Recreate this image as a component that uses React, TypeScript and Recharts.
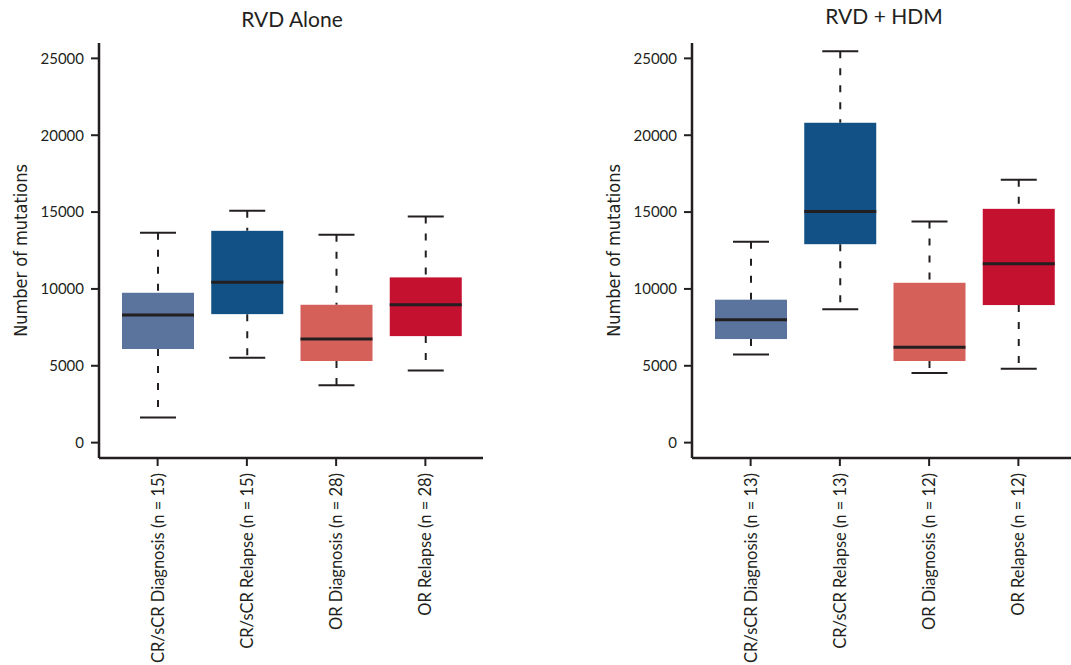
import React from "react";
import { ComposedChart, Bar, XAxis, YAxis, Label } from "recharts";

const aloneCategories = [
    "CR/sCR Diagnosis (n = 15)",
    "CR/sCR Relapse (n = 15)",
    "OR Diagnosis (n = 28)",
    "OR Relapse (n = 28)",
];
const hdmCategories = [
    "CR/sCR Diagnosis (n = 13)",
    "CR/sCR Relapse (n = 13)",
    "OR Diagnosis (n = 12)",
    "OR Relapse (n = 12)",
];

const aloneMin = [1630, 5530, 3730, 4700];
const aloneQ1 = [6090, 8360, 5310, 6930];
const aloneMedian = [8300, 10440, 6740, 8970];
const aloneQ3 = [9750, 13780, 8970, 10750];
const aloneMax = [13650, 15080, 13520, 14710];

const hdmMin = [5740, 8670, 4530, 4810];
const hdmQ1 = [6740, 12910, 5310, 8950];
const hdmMedian = [8000, 15040, 6200, 11640];
const hdmQ3 = [9300, 20810, 10400, 15210];
const hdmMax = [13070, 25460, 14390, 17100];

const boxColors = ["#5b749d", "#115186", "#d5605a", "#c3112f"];
const yTicks = [0, 5000, 10000, 15000, 20000, 25000];

const ink = "#231f20";
const font = "Lato, 'Open Sans', sans-serif";

function BoxShape(props: any) {
    const { x, y, width, height, payload } = props;
    const { min, q1, median, q3, max, color } = payload;
    const top = Math.min(y, y + height);
    const k = Math.abs(height) / (max - min);
    const py = (v: number) => top + (max - v) * k;
    const cx = x + width / 2;
    const cap = width / 4;
    return (
        <g>
            <line x1={cx} x2={cx} y1={py(max)} y2={py(q3)} stroke={ink} strokeWidth={2} strokeDasharray="7 10" />
            <line x1={cx} x2={cx} y1={py(q1)} y2={py(min)} stroke={ink} strokeWidth={2} strokeDasharray="7 10" />
            <line x1={cx - cap} x2={cx + cap} y1={py(max)} y2={py(max)} stroke={ink} strokeWidth={2} />
            <line x1={cx - cap} x2={cx + cap} y1={py(min)} y2={py(min)} stroke={ink} strokeWidth={2} />
            <rect x={x} y={py(q3)} width={width} height={py(q1) - py(q3)} fill={color} />
            <line x1={x} x2={x + width} y1={py(median)} y2={py(median)} stroke={ink} strokeWidth={3} />
        </g>
    );
}

function CategoryTick(props: any) {
    const { x, y, payload } = props;
    return (
        <text
            x={x}
            y={y}
            transform={`rotate(-90, ${x}, ${y})`}
            textAnchor="end"
            dominantBaseline="central"
            fontSize={16.5}
            fontFamily={font}
            fill={ink}
        >
            {payload.value}
        </text>
    );
}

function YTitle(props: any) {
    const { viewBox } = props;
    const cy = viewBox.y + viewBox.height / 2;
    return (
        <text
            x={20}
            y={cy}
            transform={`rotate(-90, 20, ${cy})`}
            textAnchor="middle"
            dominantBaseline="central"
            fontSize={18}
            fontFamily="'Liberation Sans Narrow', 'DejaVu Sans Condensed', sans-serif"
            fill={ink}
        >
            Number of mutations
        </text>
    );
}

function Panel({ categories, min, q1, median, q3, max }: any) {
    const data = categories.map((name: string, i: number) => ({
        name,
        range: [min[i], max[i]],
        min: min[i],
        q1: q1[i],
        median: median[i],
        q3: q3[i],
        max: max[i],
        color: boxColors[i],
    }));
    return (
        <ComposedChart width={500} height={665} data={data} margin={{ top: 43, right: 17, bottom: 7, left: 0 }}>
            <XAxis
                dataKey="name"
                height={200}
                padding={{ left: 14, right: 13 }}
                axisLine={{ stroke: ink, strokeWidth: 2.5 }}
                tickLine={{ stroke: ink, strokeWidth: 2 }}
                tickSize={8}
                tickMargin={7}
                interval={0}
                tick={<CategoryTick />}
            />
            <YAxis
                width={99}
                domain={[-1000, 26000]}
                ticks={yTicks}
                allowDataOverflow
                axisLine={{ stroke: ink, strokeWidth: 2.5 }}
                tickLine={{ stroke: ink, strokeWidth: 2 }}
                tickSize={8}
                tickMargin={7}
                tick={{ fill: ink, fontSize: 15, fontFamily: font }}
            >
                <Label content={<YTitle />} />
            </YAxis>
            <Bar dataKey="range" barSize={72} shape={<BoxShape />} isAnimationActive={false} />
        </ComposedChart>
    );
}

const titleStyle: React.CSSProperties = {
    position: "absolute",
    width: 300,
    textAlign: "center",
    fontFamily: font,
    fontSize: 21,
    lineHeight: "21px",
    color: ink,
};

export default function App() {
    return (
        <div
            style={{
                position: "absolute",
                left: 0,
                top: 0,
                width: 1071,
                height: 665,
                overflow: "hidden",
                background: "#fff",
            }}
        >
            <div style={{ ...titleStyle, left: 292 - 150, top: 8 }}>RVD Alone</div>
            <div style={{ ...titleStyle, left: 884 - 150, top: 5 }}>RVD + HDM</div>
            <div style={{ position: "absolute", left: 0, top: 0 }}>
                <Panel categories={aloneCategories} min={aloneMin} q1={aloneQ1} median={aloneMedian} q3={aloneQ3} max={aloneMax} />
            </div>
            <div style={{ position: "absolute", left: 593, top: 0 }}>
                <Panel categories={hdmCategories} min={hdmMin} q1={hdmQ1} median={hdmMedian} q3={hdmQ3} max={hdmMax} />
            </div>
        </div>
    );
}
